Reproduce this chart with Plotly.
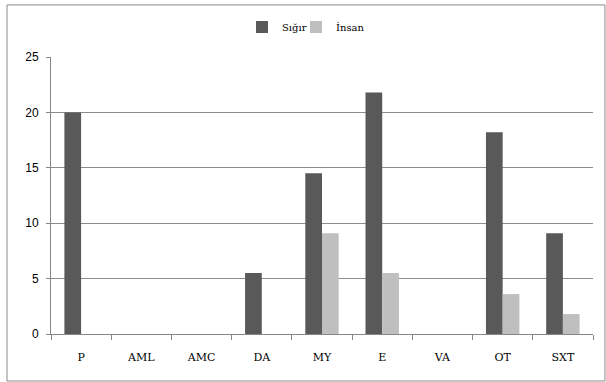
import plotly.graph_objects as go

categories = ["P", "AML", "AMC", "DA", "MY", "E", "VA", "OT", "SXT"]
sigir = [20, 0, 0, 5.5, 14.5, 21.8, 0, 18.2, 9.1]
insan = [0, 0, 0, 0, 9.1, 5.5, 0, 3.6, 1.8]
y_ticks = [0, 5, 10, 15, 20, 25]

fig = go.Figure()
fig.add_trace(go.Bar(name="Sığır", x=categories, y=sigir, marker_color="#595959",
                     marker_line_width=0, legend="legend"))
fig.add_trace(go.Bar(name="İnsan", x=categories, y=insan, marker_color="#BFBFBF",
                     marker_line_width=0, legend="legend2"))

leg_common = dict(orientation="h", xref="container", yref="container", xanchor="left",
                  y=1 - 27 / 382, yanchor="middle", itemwidth=30,
                  font=dict(family="DejaVu Serif", size=10, color="#000"),
                  bgcolor="rgba(0,0,0,0)")

fig.update_layout(
    width=606, height=382,
    margin=dict(l=51, r=13, t=57, b=48),
    paper_bgcolor="white", plot_bgcolor="white",
    barmode="group", bargap=0.445, bargroupgap=0,
    showlegend=True,
    legend=dict(leg_common, x=242 / 606),
    legend2=dict(leg_common, x=296 / 606),
    shapes=[dict(type="rect", xref="paper", yref="paper",
                 x0=-0.0812, x1=1.022, y0=-0.1697, y1=1.188,
                 line=dict(color="#8a8a8a", width=1), fillcolor="rgba(0,0,0,0)", layer="below")],
)
fig.update_xaxes(
    showline=True, linecolor="#868686", linewidth=1,
    ticks="outside", ticklen=5, tickcolor="#868686", tickson="boundaries",
    ticklabelstandoff=13, automargin=False,
    tickfont=dict(family="DejaVu Serif", size=11, color="#000"),
    showgrid=False, zeroline=False,
)
fig.update_yaxes(
    range=[0, 25], tickvals=y_ticks,
    showline=True, linecolor="#868686", linewidth=1,
    ticks="outside", ticklen=4, tickcolor="#868686",
    ticklabelstandoff=5, automargin=False,
    showgrid=True, gridcolor="#8c8c8c", gridwidth=1, zeroline=False,
    tickfont=dict(family="Liberation Sans", size=12, color="#000"),
)
fig.write_html("out.html", config={"displayModeBar": False},
               post_script="document.body.style.margin='0';")
